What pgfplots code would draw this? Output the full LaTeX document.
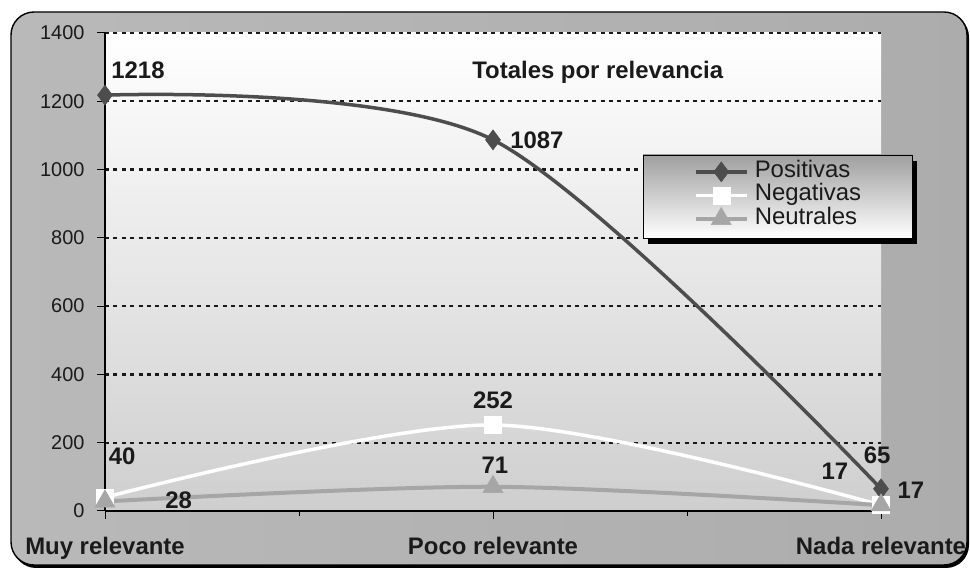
\documentclass[border=0pt]{standalone}
\usepackage{pgfplots}
\pgfplotsset{compat=1.18}
\usepackage{fontspec}
\setmainfont{Liberation Sans}
\definecolor{cpos}{HTML}{4D4D4D}
\definecolor{cneu}{HTML}{A6A6A6}
\definecolor{ctxt}{HTML}{1A1A1A}
\begin{document}
\begin{tikzpicture}[x=1bp,y=1bp]
\fill[black,rounded corners=23bp] (13,1) rectangle (969,555);
\shadedraw[rounded corners=23bp, left color=gray!55, middle color=gray!6, right color=gray!65, draw=black, line width=1.4bp] (11,4) rectangle (967,557);
\begin{axis}[
  at={(105bp,58bp)}, anchor=south west,
  scale only axis, width=776bp, height=478bp,
  xmin=0, xmax=2, ymin=0, ymax=1400,
  clip=false,
  axis background/.style={shade, top color=white, bottom color=gray!38},
  axis x line*=bottom, axis y line*=left,
  x axis line style={-, line width=1.8bp, black},
  y axis line style={-, line width=1.2bp, black},
  xtick={0,1,2},
  xticklabels={Muy relevante, Poco relevante, Nada relevante},
  minor xtick={0.5,1.5},
  ytick={0,200,...,1400},
  tick align=outside,
  major tick length=8bp, minor tick length=5bp,
  tick style={black, line width=1bp},
  ymajorgrids,
  grid style={black!90, line width=2.2bp, dash pattern=on 4bp off 4.4bp},
  /pgf/number format/1000 sep={},
  /pgf/number format/assume math mode=true,
  yticklabel style={font=\fontsize{20}{24}\selectfont, text=ctxt, xshift=-9bp},
  xticklabel style={font=\bfseries\fontsize{24}{28}\selectfont, text=ctxt, anchor=base, yshift=-36bp},
  legend style={at={(0.694,0.745)}, anchor=north west,
    draw=none, fill=none,
    font=\fontsize{24}{23}\selectfont, inner xsep=50bp, inner ysep=5bp,
    nodes={inner sep=0pt, text height=17bp, text depth=6.5bp, text=ctxt},
    row sep=0pt, /tikz/column sep=6bp},
  legend cell align=left,
  legend image code/.code={\draw[mark repeat=2,mark phase=2,#1] plot coordinates {(0bp,0bp) (25.5bp,0bp) (51bp,0bp)};},
]
\addplot[cpos, line width=3.5bp, smooth, mark=diamond*, mark size=10bp, mark options={fill=cpos, draw=cpos, line width=0.5bp}]
  coordinates {(0,1218) (1,1087) (2,65)};
\addlegendentry{Positivas}
\addplot[white, line width=3.5bp, smooth, mark=square*, mark size=8.5bp, mark options={fill=white, draw=white, line width=0.5bp}]
  coordinates {(0,40) (1,252) (2,17)};
\addlegendentry{Negativas}
\addplot[cneu, line width=4bp, smooth, mark=triangle*, mark size=11.5bp, mark options={fill=cneu, draw=cneu, line width=0.5bp}]
  coordinates {(0,28) (1,71) (2,17)};
\addlegendentry{Neutrales}
\fill[black] ([xshift=5bp,yshift=-6bp]rel axis cs:0.6933,0.5711) rectangle ([xshift=5bp,yshift=-6bp]rel axis cs:1.04,0.7448);
\shadedraw[top color=gray!75, bottom color=white, draw=black, line width=0.8bp] (rel axis cs:0.6933,0.5711) rectangle (rel axis cs:1.04,0.7448);
\begin{scope}[every node/.style={font=\bfseries\fontsize{24}{28}\selectfont, text=ctxt}]
\node at (axis cs:0.085,1292) {1218};
\node at (axis cs:1.113,1087) {1087};
\node at (axis cs:1,325) {252};
\node at (axis cs:1.005,135) {71};
\node at (axis cs:0.044,161) {40};
\node at (axis cs:0.19,32) {28};
\node at (axis cs:1.99,164) {65};
\node at (axis cs:1.881,117) {17};
\node at (axis cs:2.077,61) {17};
\node at (axis cs:1.27,1286) {Totales por relevancia};
\end{scope}
\end{axis}
\pgfresetboundingbox
\path (0,0) rectangle (970,569);
\end{tikzpicture}
\end{document}
